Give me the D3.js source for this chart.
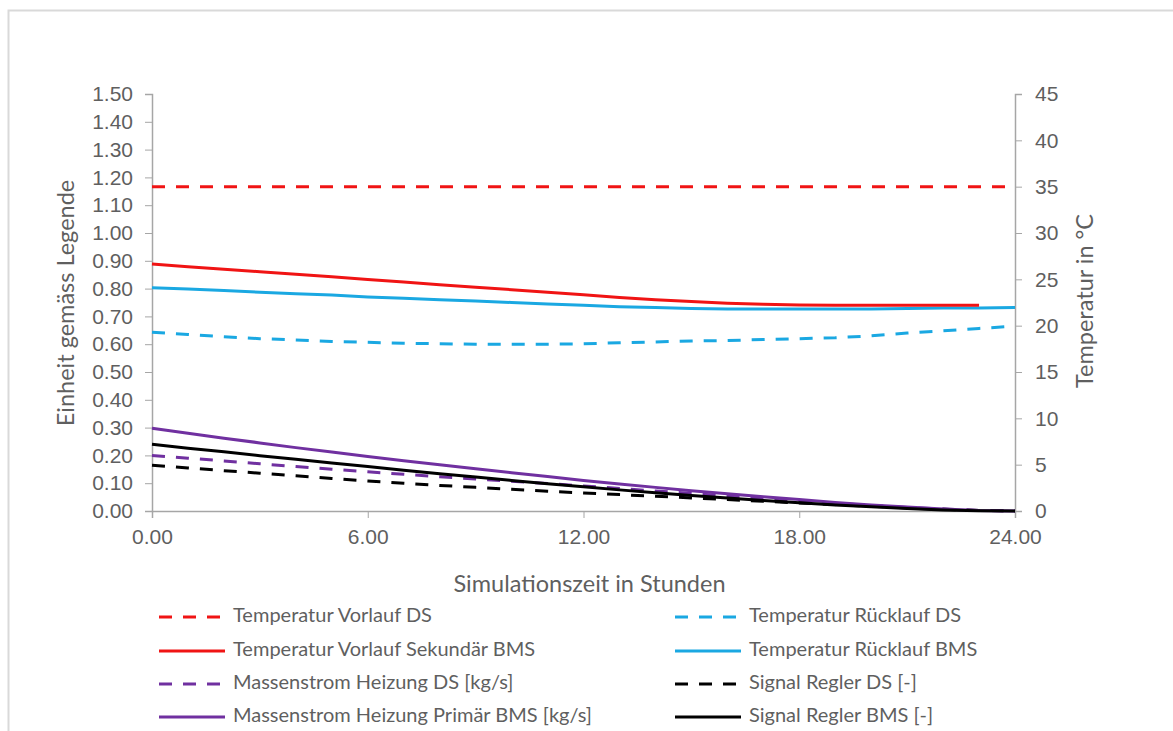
<!DOCTYPE html>
<meta charset="utf-8">
<style>
body { margin: 0; background: #fff; }
svg { font-family: Lato, "Open Sans", sans-serif; }
.axis path, .axis line { stroke: #a6a6a6; }
.axis text { fill: #5f5f5f; font-size: 21px; }
.title { fill: #5f5f5f; font-size: 23.5px; }
.legend text { fill: #5f5f5f; font-size: 20px; }
</style>
<svg></svg>
<script src="https://d3js.org/d3.v7.min.js"></script>
<script>

// hours 0..24
var hours = [0, 1, 2, 3, 4, 5, 6, 7, 8, 9, 10, 11, 12, 13, 14, 15, 16, 17, 18, 19, 20, 21, 22, 23, 24];

// temperatures in °C (right axis)
var vorlaufDS = [35, 35, 35, 35, 35, 35, 35, 35, 35, 35, 35, 35, 35, 35, 35, 35, 35, 35, 35, 35, 35, 35, 35, 35, 35];
var ruecklaufDS = [19.3, 19.05, 18.8, 18.6, 18.45, 18.3, 18.2, 18.1, 18.05, 18.0, 18.0, 18.0, 18.05, 18.15, 18.25, 18.35, 18.4, 18.5, 18.6, 18.7, 18.9, 19.2, 19.45, 19.7, 19.95];
var vorlaufBMS = [26.65, 26.37, 26.1, 25.82, 25.55, 25.27, 24.98, 24.7, 24.42, 24.15, 23.88, 23.6, 23.33, 23.05, 22.8, 22.6, 22.42, 22.3, 22.22, 22.2, 22.2, 22.2, 22.2, 22.2, null];
var ruecklaufBMS = [24.1, 23.95, 23.8, 23.6, 23.45, 23.3, 23.1, 22.95, 22.8, 22.65, 22.5, 22.35, 22.2, 22.05, 21.95, 21.85, 21.8, 21.8, 21.8, 21.8, 21.8, 21.85, 21.9, 21.9, 21.95];

// left axis
var massenstromDS = [0.2, 0.19, 0.18, 0.17, 0.16, 0.15, 0.141, 0.132, 0.123, 0.115, 0.107, 0.099, 0.09, 0.081, 0.072, 0.063, 0.054, 0.045, 0.036, 0.028, 0.02, 0.013, 0.007, 0.002, 0];
var signalDS = [0.165, 0.155, 0.145, 0.136, 0.127, 0.117, 0.108, 0.1, 0.092, 0.085, 0.078, 0.071, 0.065, 0.059, 0.053, 0.047, 0.041, 0.035, 0.029, 0.023, 0.017, 0.011, 0.006, 0.002, 0];
var massenstromBMS = [0.298, 0.28, 0.262, 0.245, 0.228, 0.212, 0.196, 0.181, 0.166, 0.152, 0.138, 0.124, 0.11, 0.097, 0.085, 0.073, 0.062, 0.051, 0.041, 0.031, 0.022, 0.014, 0.007, 0.002, 0];
var signalBMS = [0.24, 0.226, 0.213, 0.199, 0.186, 0.173, 0.16, 0.147, 0.134, 0.122, 0.11, 0.098, 0.087, 0.076, 0.066, 0.056, 0.047, 0.038, 0.03, 0.022, 0.015, 0.009, 0.004, 0.001, 0];

var xTicks = [0, 6, 12, 18, 24];
var leftTicks = [0, 0.1, 0.2, 0.3, 0.4, 0.5, 0.6, 0.7, 0.8, 0.9, 1.0, 1.1, 1.2, 1.3, 1.4, 1.5];
var rightTicks = [0, 5, 10, 15, 20, 25, 30, 35, 40, 45];

var series = [
  { name: 'Temperatur Vorlauf DS', values: vorlaufDS, axis: 'r', color: '#f01414', dash: true },
  { name: 'Temperatur Rücklauf DS', values: ruecklaufDS, axis: 'r', color: '#1aa8e2', dash: true },
  { name: 'Temperatur Vorlauf Sekundär BMS', values: vorlaufBMS, axis: 'r', color: '#f01414', dash: false },
  { name: 'Temperatur Rücklauf BMS', values: ruecklaufBMS, axis: 'r', color: '#1aa8e2', dash: false },
  { name: 'Massenstrom Heizung DS [kg/s]', values: massenstromDS, axis: 'l', color: '#7030a0', dash: true },
  { name: 'Signal Regler DS [-]', values: signalDS, axis: 'l', color: '#000000', dash: true },
  { name: 'Massenstrom Heizung Primär BMS [kg/s]', values: massenstromBMS, axis: 'l', color: '#7030a0', dash: false },
  { name: 'Signal Regler BMS [-]', values: signalBMS, axis: 'l', color: '#000000', dash: false }
];

var W = 1173, H = 731;
var plot = { left: 152, right: 1015, top: 94, bottom: 511 };

var svg = d3.select('svg').attr('width', W).attr('height', H);

svg.append('rect')
  .attr('x', 8.5).attr('y', 10.5)
  .attr('width', 1200).attr('height', 800)
  .attr('fill', '#fff')
  .attr('stroke', '#d9d9d9')
  .attr('stroke-width', 2);

var x = d3.scaleLinear().domain([0, 24]).range([plot.left, plot.right]);
var yl = d3.scaleLinear().domain([0, 1.5]).range([plot.bottom, plot.top]);
var yr = d3.scaleLinear().domain([0, 45]).range([plot.bottom, plot.top]);

svg.append('g')
  .attr('class', 'axis')
  .attr('transform', 'translate(0,' + plot.bottom + ')')
  .call(d3.axisBottom(x).tickValues(xTicks).tickSizeOuter(0).tickSize(7).tickPadding(11).tickFormat(d3.format('.2f')));

svg.append('g')
  .attr('class', 'axis')
  .attr('transform', 'translate(' + plot.left + ',0)')
  .call(d3.axisLeft(yl).tickValues(leftTicks).tickSizeOuter(0).tickSize(7).tickPadding(12).tickFormat(d3.format('.2f')));

svg.append('g')
  .attr('class', 'axis')
  .attr('transform', 'translate(' + plot.right + ',0)')
  .call(d3.axisRight(yr).tickValues(rightTicks).tickSizeOuter(0).tickSize(7).tickPadding(13));

svg.selectAll('.axis .domain').attr('stroke-width', 1.5);

svg.append('text')
  .attr('class', 'title')
  .attr('x', (plot.left + plot.right) / 2 + 6)
  .attr('y', 586)
  .attr('text-anchor', 'middle')
  .attr('dominant-baseline', 'middle')
  .text('Simulationszeit in Stunden');

svg.append('text')
  .attr('class', 'title')
  .attr('transform', 'translate(68,303) rotate(-90)')
  .attr('text-anchor', 'middle')
  .attr('dominant-baseline', 'middle')
  .text('Einheit  gemäss Legende');

svg.append('text')
  .attr('class', 'title')
  .attr('transform', 'translate(1087,301) rotate(-90)')
  .attr('text-anchor', 'middle')
  .attr('dominant-baseline', 'middle')
  .text('Temperatur in °C');

var lines = svg.append('g');

// draw temperatures first, lower series after
[0, 1, 3, 2, 4, 5, 6, 7].forEach(function (i) {
  var s = series[i];
  var y = s.axis === 'r' ? yr : yl;
  var line = d3.line()
    .defined(function (d) { return d != null; })
    .x(function (d, j) { return x(hours[j]); })
    .y(function (d) { return y(d); });
  lines.append('path')
    .datum(s.values)
    .attr('fill', 'none')
    .attr('stroke', s.color)
    .attr('stroke-width', 3)
    .attr('stroke-dasharray', s.dash ? '13,11' : null)
    .attr('d', line);
});

var legend = svg.append('g').attr('class', 'legend');
var rowY = [617, 651, 684, 717];
var colX = [159, 675];

series.forEach(function (s, i) {
  var cx = colX[i % 2], cy = rowY[Math.floor(i / 2)];
  legend.append('line')
    .attr('x1', cx).attr('x2', cx + 66)
    .attr('y1', cy).attr('y2', cy)
    .attr('stroke', s.color)
    .attr('stroke-width', 3)
    .attr('stroke-dasharray', s.dash ? '13,11' : null);
  legend.append('text')
    .attr('x', cx + 74)
    .attr('y', cy)
    .attr('dominant-baseline', 'middle')
    .text(s.name);
});

</script>
